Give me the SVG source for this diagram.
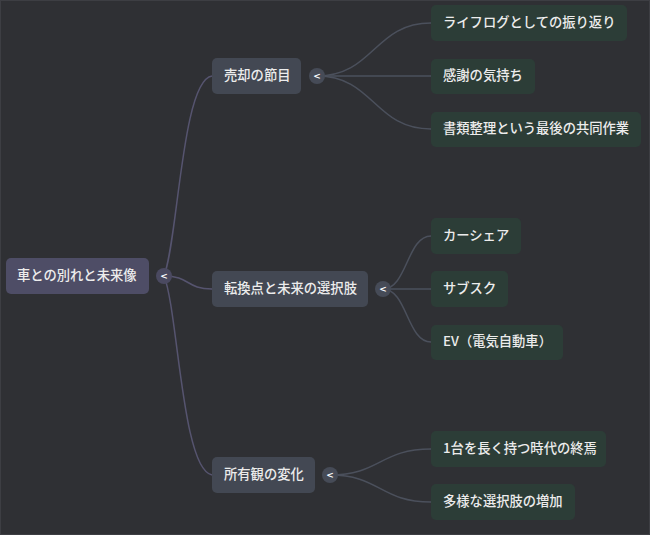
<svg xmlns="http://www.w3.org/2000/svg" width="650" height="535" viewBox="0 0 650 535">
<style>
text{font-family:"Noto Sans CJK JP","Noto Sans",sans-serif;font-size:13.3px;font-weight:500;fill:#ececec;dominant-baseline:central}
.root{fill:#4e4d66}
.br{fill:#434853}
.lf{fill:#2c3d37}
.c0{fill:#4a4960}
.c1{fill:#464b57}
.tg{font-family:"DejaVu Sans",sans-serif;font-size:9px;font-weight:bold;fill:#ffffff;text-anchor:middle}
.l0{fill:none;stroke:#56546f;stroke-width:1.5}
.l1{fill:none;stroke:#4b505c;stroke-width:1.5}
</style>
<rect x="0" y="0" width="650" height="535" fill="#2f3034"/>
<rect x="0.5" y="0.5" width="649" height="534" fill="none" stroke="#3d3e43"/>
<g id="connectors">
<path class="l0" d="M164,276 C178,240 182,80 212,76"/>
<path class="l0" d="M164,276 C190,276 186,289 212,289"/>
<path class="l0" d="M164,276 C178,310 182,470 212,475"/>
<path class="l1" d="M317,76 C374,76 374,23 431,23"/>
<path class="l1" d="M317,76 L431,76"/>
<path class="l1" d="M317,76 C374,76 374,129 431,129"/>
<path class="l1" d="M383,289 C407,289 407,236 431,236"/>
<path class="l1" d="M383,289 L431,289"/>
<path class="l1" d="M383,289 C407,289 407,342 431,342"/>
<path class="l1" d="M330,475 C380,475 380,449 431,449"/>
<path class="l1" d="M330,475 C380,475 380,502 431,502"/>
</g>
<g id="root">
<rect class="root" x="6" y="258" width="143" height="36" rx="5"/>
<text x="17" y="274">車との別れと未来像</text>
<circle class="c0" cx="164" cy="276" r="8"/>
<text class="tg" x="164" y="276">&lt;</text>
</g>
<g id="b1">
<rect class="br" x="212" y="58" width="89" height="36" rx="5"/>
<text x="224" y="74">売却の節目</text>
<circle class="c1" cx="317" cy="76" r="8"/>
<text class="tg" x="317" y="76">&lt;</text>
</g>
<g id="b2">
<rect class="br" x="212" y="271" width="156" height="36" rx="5"/>
<text x="224" y="287">転換点と未来の選択肢</text>
<circle class="c1" cx="383" cy="289" r="8"/>
<text class="tg" x="383" y="289">&lt;</text>
</g>
<g id="b3">
<rect class="br" x="212" y="457" width="103" height="36" rx="5"/>
<text x="224" y="473">所有観の変化</text>
<circle class="c1" cx="330" cy="475" r="8"/>
<text class="tg" x="330" y="475">&lt;</text>
</g>
<g id="l1"><rect class="lf" x="431" y="5" width="196" height="36" rx="5"/><text x="443" y="21">ライフログとしての振り返り</text></g>
<g id="l2"><rect class="lf" x="431" y="59" width="104" height="35" rx="5"/><text x="443" y="74">感謝の気持ち</text></g>
<g id="l3"><rect class="lf" x="431" y="112" width="210" height="35" rx="5"/><text x="443" y="127">書類整理という最後の共同作業</text></g>
<g id="l4"><rect class="lf" x="431" y="218" width="90" height="36" rx="5"/><text x="443" y="234">カーシェア</text></g>
<g id="l5"><rect class="lf" x="431" y="271" width="77" height="36" rx="5"/><text x="443" y="287">サブスク</text></g>
<g id="l6"><rect class="lf" x="431" y="325" width="132" height="35" rx="5"/><text x="443" y="340">EV（電気自動車）</text></g>
<g id="l7"><rect class="lf" x="431" y="431" width="175" height="36" rx="5"/><text x="443" y="447">1台を長く持つ時代の終焉</text></g>
<g id="l8"><rect class="lf" x="431" y="484" width="144" height="36" rx="5"/><text x="443" y="500">多様な選択肢の増加</text></g>
</svg>
